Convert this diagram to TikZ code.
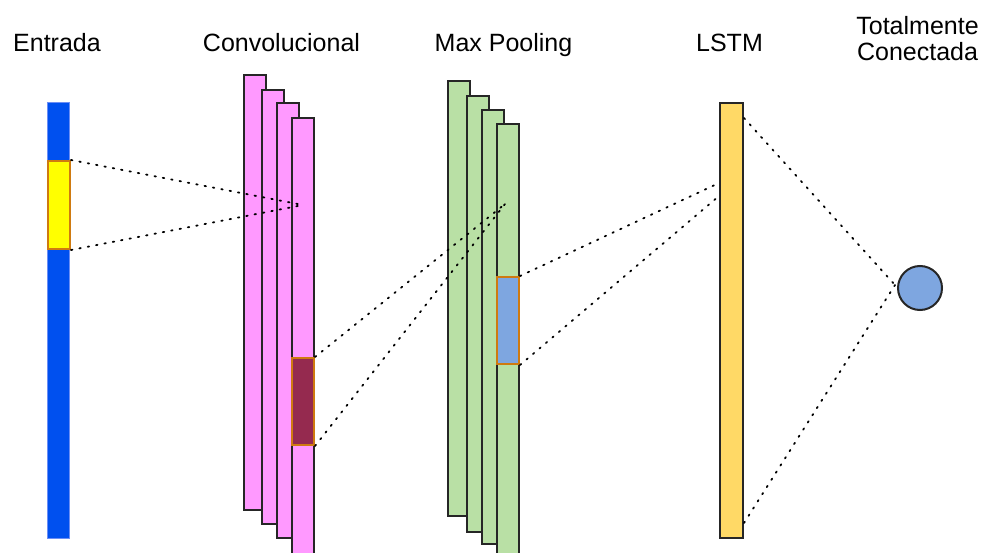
\documentclass[tikz,border=0pt]{standalone}
\usepackage{fontspec}
\setmainfont{Liberation Sans}
\definecolor{inblue}{HTML}{0050EF}
\definecolor{inedge}{HTML}{6C8EF5}
\definecolor{hlyellow}{HTML}{FFFF00}
\definecolor{hledge}{HTML}{CF7A10}
\definecolor{convpink}{HTML}{FF99FF}
\definecolor{convdark}{HTML}{952A4F}
\definecolor{poolgreen}{HTML}{B9E0A5}
\definecolor{poolblue}{HTML}{7EA6E0}
\definecolor{lstmyellow}{HTML}{FFD966}
\begin{document}
\begin{tikzpicture}[x=1pt,y=-1pt,
  bar/.style={draw=black!85,line width=2pt,rectangle,inner sep=0pt,
    minimum width=22pt,anchor=north west},
  patch/.style={draw=hledge,line width=2pt,rectangle,inner sep=0pt,
    minimum width=22pt,anchor=north west},
  link/.style={line width=1.8pt,dash pattern=on 1.5pt off 7pt,line cap=round},
  lbl/.style={font=\fontsize{25}{25}\selectfont,anchor=base,inner sep=0pt}]
\useasboundingbox (0,0) rectangle (984,553);

% labels
\node[lbl] (tin)   at (57,52)    {Entrada};
\node[lbl] (tconv) at (281.5,52) {Convolucional};
\node[lbl] (tpool) at (503.5,52) {Max Pooling};
\node[lbl] (tlstm) at (729.5,52) {LSTM};
\node[lbl] (tfc1)  at (917.5,35) {Totalmente};
\node[lbl] (tfc2)  at (917.5,61) {Conectada};

% input sequence
\node[rectangle,inner sep=0pt,anchor=north west,fill=inblue,draw=inedge,
  line width=0.8pt,minimum width=22pt,minimum height=436pt] (in) at (47,102) {};
\node[patch,fill=hlyellow,minimum height=88pt] (win) at (47,160) {};

% convolutional feature maps
\node[bar,fill=convpink,minimum height=435pt] (c1) at (243,74) {};
\node[bar,fill=convpink,minimum height=434pt] (c2) at (261,89) {};
\node[bar,fill=convpink,minimum height=435pt] (c3) at (276,102) {};
\node[bar,fill=convpink,minimum height=436pt] (c4) at (291,117) {};
\node[patch,fill=convdark,minimum height=87pt] (wconv) at (291,357) {};

% max pooling maps
\node[bar,fill=poolgreen,minimum height=435pt] (p1) at (447,80) {};
\node[bar,fill=poolgreen,minimum height=436pt] (p2) at (466,95) {};
\node[bar,fill=poolgreen,minimum height=434pt] (p3) at (481,109) {};
\node[bar,fill=poolgreen,minimum height=436pt] (p4) at (496,123) {};
\node[patch,fill=poolblue,minimum height=87pt] (wpool) at (496,276) {};

% LSTM layer
\node[bar,fill=lstmyellow,minimum width=23pt,minimum height=435pt] (lstm) at (719,102) {};

% fully connected output
\node[circle,draw=black!85,line width=2pt,fill=poolblue,minimum size=44pt,
  inner sep=0pt] (fc) at (920,288) {};

% receptive fields
\coordinate (fconv) at (303,205);
\coordinate (fpool) at (505,204);
\coordinate (lin1) at (719,183);
\coordinate (lin2) at (719,196);
\coordinate (lout1) at (744,118);
\coordinate (lout2) at (744,523);
\coordinate (fcin) at (895,285);

\draw[link] (win.north east) -- (fconv);
\draw[link] (win.south east) -- (fconv);
\draw[link] (wconv.north east) -- (fpool);
\draw[link] (wconv.south east) -- (fpool);
\draw[link] (wpool.north east) -- (lin1);
\draw[link] (wpool.south east) -- (lin2);
\draw[link] (lout1) -- (fcin);
\draw[link] (lout2) -- (fcin);
\end{tikzpicture}
\end{document}
